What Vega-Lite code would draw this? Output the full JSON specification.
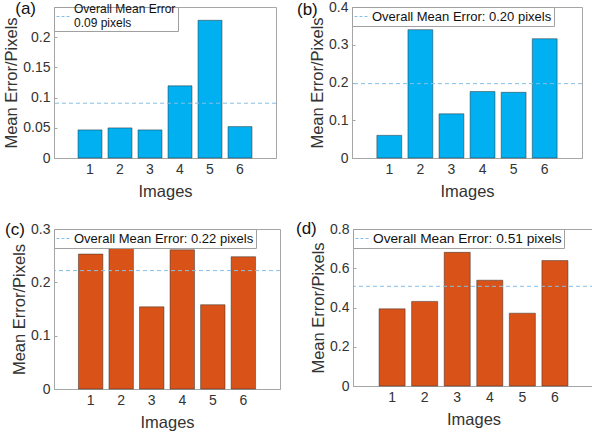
{
  "$schema": "https://vega.github.io/schema/vega-lite/v6.json",
  "background": "white",
  "padding": {"left": 3, "top": -1, "right": 0, "bottom": 0},
  "config": {
    "font": "Liberation Sans",
    "view": {"stroke": "#a6a6a6", "strokeWidth": 1},
    "axis": {
      "domainColor": "#a6a6a6", "tickColor": "#a6a6a6", "tickSize": -3,
      "labelColor": "#333333", "titleColor": "#333333",
      "labelFontSize": 14, "titleFontSize": 16.5, "titleFontWeight": "normal",
      "grid": false, "labelPadding": 7, "titlePadding": 3, "labelOverlap": false
    },
    "axisX": {"titlePadding": 7},
    "legend": {
      "orient": "top-left", "offset": 0, "padding": 2,
      "strokeColor": "#a0a0a0", "fillColor": "white",
      "symbolType": "stroke", "symbolSize": 196, "symbolDash": [3, 2], "symbolStrokeWidth": 1,
      "labelFontSize": 13, "labelColor": "#111111", "labelLimit": 400, "labelOffset": 3
    },
    "title": {"fontSize": 17, "fontWeight": "normal", "color": "#111111", "anchor": "start", "frame": "group"}
  },
  "resolve": {"scale": {"stroke": "independent", "y": "independent", "x": "independent"}, "legend": {"stroke": "independent"}},
  "spacing": 19,
  "vconcat": [
    {
      "spacing": 19,
      "resolve": {"scale": {"stroke": "independent", "y": "independent", "x": "independent"}, "legend": {"stroke": "independent"}},
      "hconcat": [
        {
          "width": 222, "height": 151,
          "title": {"text": "(a)", "align": "right", "dx": -18, "offset": -11},
          "layer": [
            {
              "data": {"values": [
                {"image": "1", "error": 0.0465}, {"image": "2", "error": 0.0498}, {"image": "3", "error": 0.0465},
                {"image": "4", "error": 0.1195}, {"image": "5", "error": 0.228}, {"image": "6", "error": 0.052}
              ]},
              "mark": {"type": "bar", "fill": "#00b0f0", "stroke": "#2b2b2b", "strokeWidth": 0.6, "strokeOpacity": 0.8},
              "encoding": {
                "x": {"field": "image", "type": "ordinal", "title": "Images", "scale": {"paddingInner": 0.2, "paddingOuter": 0.8}, "axis": {"labelAngle": 0}},
                "y": {"field": "error", "type": "quantitative", "title": "Mean Error/Pixels", "scale": {"domain": [0, 0.25], "nice": false}, "axis": {"values": [0, 0.05, 0.1, 0.15, 0.2], "format": "~g"}}
              }
            },
            {
              "data": {"values": [{"mean": 0.0907, "label": "Overall Mean Error|\u00a0\u00a0\u00a0\u00a0\u00a00.09 pixels"}]},
              "mark": {"type": "rule", "strokeDash": [4, 3], "strokeWidth": 1},
              "encoding": {
                "y": {"field": "mean", "type": "quantitative", "title": "Mean Error/Pixels", "axis": {"values": [0, 0.05, 0.1, 0.15, 0.2], "format": "~g"}},
                "stroke": {"field": "label", "type": "nominal", "scale": {"range": ["#86bfe6"]}, "legend": {"title": null, "labelExpr": "split(datum.label, '|')", "labelFontSize": 12, "labelBaseline": "line-bottom"}}
              }
            }
          ]
        },
        {
          "width": 230, "height": 151,
          "title": {"text": "(b)", "dx": -55, "offset": -19},
          "layer": [
            {
              "data": {"values": [
                {"image": "1", "error": 0.060}, {"image": "2", "error": 0.340}, {"image": "3", "error": 0.117},
                {"image": "4", "error": 0.176}, {"image": "5", "error": 0.174}, {"image": "6", "error": 0.316}
              ]},
              "mark": {"type": "bar", "fill": "#00b0f0", "stroke": "#2b2b2b", "strokeWidth": 0.6, "strokeOpacity": 0.8},
              "encoding": {
                "x": {"field": "image", "type": "ordinal", "title": "Images", "scale": {"paddingInner": 0.2, "paddingOuter": 0.8}, "axis": {"labelAngle": 0}},
                "y": {"field": "error", "type": "quantitative", "title": "Mean Error/Pixels", "scale": {"domain": [0, 0.4], "nice": false}, "axis": {"values": [0, 0.1, 0.2, 0.3, 0.4], "format": "~g"}}
              }
            },
            {
              "data": {"values": [{"mean": 0.197, "label": "Overall Mean Error: 0.20 pixels"}]},
              "mark": {"type": "rule", "strokeDash": [4, 3], "strokeWidth": 1},
              "encoding": {
                "y": {"field": "mean", "type": "quantitative", "title": "Mean Error/Pixels", "axis": {"values": [0, 0.1, 0.2, 0.3, 0.4], "format": "~g"}},
                "stroke": {"field": "label", "type": "nominal", "scale": {"range": ["#86bfe6"]}, "legend": {"title": null}}
              }
            }
          ]
        }
      ]
    },
    {
      "spacing": 14,
      "resolve": {"scale": {"stroke": "independent", "y": "independent", "x": "independent"}, "legend": {"stroke": "independent"}},
      "hconcat": [
        {
          "width": 226, "height": 160,
          "title": {"text": "(c)", "dx": -49, "offset": -17},
          "layer": [
            {
              "data": {"values": [
                {"image": "1", "error": 0.253}, {"image": "2", "error": 0.267}, {"image": "3", "error": 0.154},
                {"image": "4", "error": 0.261}, {"image": "5", "error": 0.158}, {"image": "6", "error": 0.248}
              ]},
              "mark": {"type": "bar", "fill": "#d95319", "stroke": "#2b2b2b", "strokeWidth": 0.6, "strokeOpacity": 0.8},
              "encoding": {
                "x": {"field": "image", "type": "ordinal", "title": "Images", "scale": {"paddingInner": 0.2, "paddingOuter": 0.8}, "axis": {"labelAngle": 0}},
                "y": {"field": "error", "type": "quantitative", "title": "Mean Error/Pixels", "scale": {"domain": [0, 0.3], "nice": false}, "axis": {"values": [0, 0.1, 0.2, 0.3], "format": "~g"}}
              }
            },
            {
              "data": {"values": [{"mean": 0.222, "label": "Overall Mean Error: 0.22 pixels"}]},
              "mark": {"type": "rule", "strokeDash": [4, 3], "strokeWidth": 1},
              "encoding": {
                "y": {"field": "mean", "type": "quantitative", "title": "Mean Error/Pixels", "axis": {"values": [0, 0.1, 0.2, 0.3], "format": "~g"}},
                "stroke": {"field": "label", "type": "nominal", "scale": {"range": ["#86bfe6"]}, "legend": {"title": null}}
              }
            }
          ]
        },
        {
          "width": 241, "height": 157,
          "title": {"text": "(d)", "dx": -57, "offset": -16},
          "layer": [
            {
              "data": {"values": [
                {"image": "1", "error": 0.393}, {"image": "2", "error": 0.431}, {"image": "3", "error": 0.681},
                {"image": "4", "error": 0.539}, {"image": "5", "error": 0.371}, {"image": "6", "error": 0.639}
              ]},
              "mark": {"type": "bar", "fill": "#d95319", "stroke": "#2b2b2b", "strokeWidth": 0.6, "strokeOpacity": 0.8},
              "encoding": {
                "x": {"field": "image", "type": "ordinal", "title": "Images", "scale": {"paddingInner": 0.2, "paddingOuter": 0.8}, "axis": {"labelAngle": 0}},
                "y": {"field": "error", "type": "quantitative", "title": "Mean Error/Pixels", "scale": {"domain": [0, 0.8], "nice": false}, "axis": {"values": [0, 0.2, 0.4, 0.6, 0.8], "format": "~g"}}
              }
            },
            {
              "data": {"values": [{"mean": 0.508, "label": "Overall Mean Error: 0.51 pixels"}]},
              "mark": {"type": "rule", "strokeDash": [4, 3], "strokeWidth": 1},
              "encoding": {
                "y": {"field": "mean", "type": "quantitative", "title": "Mean Error/Pixels", "axis": {"values": [0, 0.2, 0.4, 0.6, 0.8], "format": "~g"}},
                "stroke": {"field": "label", "type": "nominal", "scale": {"range": ["#86bfe6"]}, "legend": {"title": null, "labelFontSize": 13.7}}
              }
            }
          ]
        }
      ]
    }
  ]
}
